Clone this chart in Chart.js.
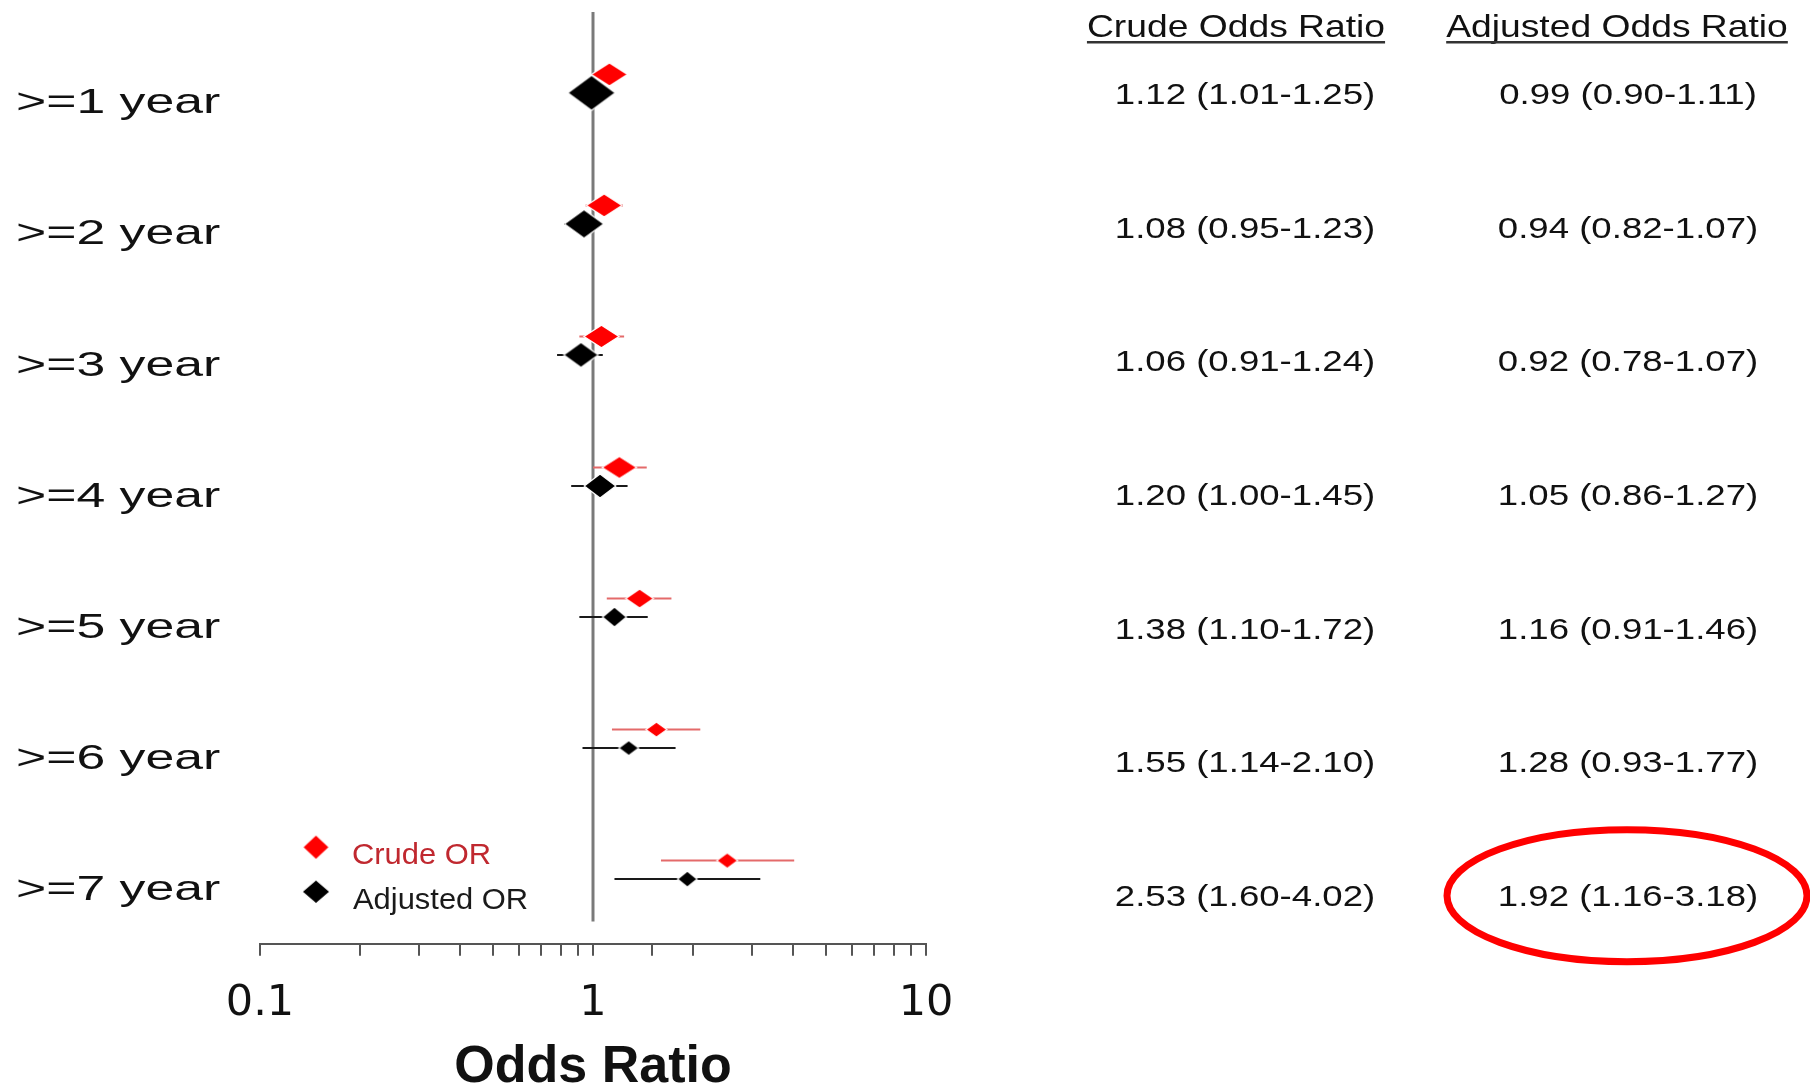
<!DOCTYPE html>
<html lang="en">
<head>
<meta charset="UTF-8">
<title>Crude and Adjusted Odds Ratio</title>
<script src="https://cdn.jsdelivr.net/npm/chart.js"></script>
<style>
  html, body { margin: 0; padding: 0; background: #fff; }
  #forest { display: block; }
</style>
</head>
<body>
<canvas id="forest" width="1810" height="1084"></canvas>
<script>
const rowLabels = ['>=1 year', '>=2 year', '>=3 year', '>=4 year', '>=5 year', '>=6 year', '>=7 year'];
const crudeOR = [1.12, 1.08, 1.06, 1.20, 1.38, 1.55, 2.53];
const crudeLo = [1.01, 0.95, 0.91, 1.00, 1.10, 1.14, 1.60];
const crudeHi = [1.25, 1.23, 1.24, 1.45, 1.72, 2.10, 4.02];
const adjOR = [0.99, 0.94, 0.92, 1.05, 1.16, 1.28, 1.92];
const adjLo = [0.90, 0.82, 0.78, 0.86, 0.91, 0.93, 1.16];
const adjHi = [1.11, 1.07, 1.07, 1.27, 1.46, 1.77, 3.18];
const xTickLabels = ['0.1', '1', '10'];
const headers = ['Crude Odds Ratio', 'Adjusted Odds Ratio'];
const legendLabels = ['Crude OR', 'Adjusted OR'];
const highlightRow = 6; // circled adjusted value

// marker half-width / half-height per row (weight of the estimate)
const crudeSize = [[18, 11.5], [17.8, 11.5], [17.5, 11.2], [17.3, 11], [13.8, 9.5], [10.5, 7.5], [10.5, 7.7]];
const adjSize = [[23.7, 17.5], [19.7, 14.3], [17.3, 12.4], [15.8, 12], [12, 10], [10, 7.4], [9.8, 8]];

const CRUDE_OFF = -0.204;   // crude row sits a little above the label
const ADJ_OFF = -0.063;
const RED = '#ff0000';
const ARIAL = "'Liberation Sans', Arial, sans-serif";

// wide diamond, the original export is stretched sideways
function diamond(color, hw, hh) {
    const c = document.createElement('canvas');
    c.width = Math.ceil(hw * 2 + 4);
    c.height = Math.ceil(hh * 2 + 4);
    const g = c.getContext('2d');
    const cx = c.width / 2, cy = c.height / 2;
    g.beginPath();
    g.moveTo(cx - hw, cy);
    g.lineTo(cx, cy - hh);
    g.lineTo(cx + hw, cy);
    g.lineTo(cx, cy + hh);
    g.closePath();
    g.fillStyle = color;
    g.fill();
    g.lineWidth = 1.2;
    g.strokeStyle = '#fff';
    g.stroke();
    return c;
}
const crudeMarks = crudeSize.map(s => diamond(RED, s[0], s[1]));
const adjMarks = adjSize.map(s => diamond('#000', s[0], s[1]));

function fmt(or, lo, hi) {
    return `${or.toFixed(2)} (${lo.toFixed(2)}-${hi.toFixed(2)})`;
}

// text drawn with horizontal stretch, yMid = middle of the capitals
function stretchText(ctx, text, x, yMid, size, sx, align, color, weight) {
    ctx.save();
    ctx.font = `${weight || 'normal'} ${size}px ${ARIAL}`;
    ctx.fillStyle = color;
    ctx.textAlign = 'left';
    ctx.textBaseline = 'alphabetic';
    const w = ctx.measureText(text).width * sx;
    const x0 = align === 'center' ? x - w / 2 : (align === 'right' ? x - w : x);
    ctx.translate(x0, yMid + size * 0.716 / 2);
    ctx.scale(sx, 1);
    ctx.fillText(text, 0, 0);
    ctx.restore();
    return { x0: x0, w: w };
}

const datasets = [];
// reference line at OR = 1
datasets.push({
    data: [{ x: 1, y: -0.68 }, { x: 1, y: 6.26 }],
    showLine: true, borderColor: '#7a7a7a', borderWidth: 3, pointRadius: 0, order: 40
});
rowLabels.forEach((_, i) => {
    datasets.push({
        data: [{ x: crudeLo[i], y: i + CRUDE_OFF }, { x: crudeHi[i], y: i + CRUDE_OFF }],
        showLine: true, borderColor: '#e46a6a', borderWidth: 2, pointRadius: 0, order: 30
    });
    datasets.push({
        data: [{ x: adjLo[i], y: i + ADJ_OFF }, { x: adjHi[i], y: i + ADJ_OFF }],
        showLine: true, borderColor: '#1a1a1a', borderWidth: 2, pointRadius: 0, order: 30
    });
});
datasets.push({
    label: legendLabels[1],
    data: adjOR.map((v, i) => ({ x: v, y: i + ADJ_OFF })),
    pointStyle: c => adjMarks[c.dataIndex] || adjMarks[0],
    pointRadius: 10, order: 2
});
datasets.push({
    label: legendLabels[0],
    data: crudeOR.map((v, i) => ({ x: v, y: i + CRUDE_OFF })),
    pointStyle: c => crudeMarks[c.dataIndex] || crudeMarks[0],
    pointRadius: 10, order: 1
});

const textPlugin = {
    id: 'forestText',
    afterDraw(chart) {
        const ctx = chart.ctx;
        const ys = chart.scales.y;
        const area = chart.chartArea;

        // row labels
        rowLabels.forEach((t, i) => {
            stretchText(ctx, t, 16, ys.getPixelForValue(i), 34.5, 1.5, 'left', '#111');
        });

        // table headers with underline
        const colX = [1245, 1628];
        const headX = [1236, 1617];
        headers.forEach((h, k) => {
            const r = stretchText(ctx, h, headX[k], 25.2, 32, 1.164, 'center', '#111');
            ctx.save();
            ctx.strokeStyle = '#333';
            ctx.lineWidth = 2.5;
            ctx.beginPath();
            ctx.moveTo(r.x0, 42.3);
            ctx.lineTo(r.x0 + r.w, 42.3);
            ctx.stroke();
            ctx.restore();
        });

        // table values
        rowLabels.forEach((_, i) => {
            const y = ys.getPixelForValue(-0.06 + 1.02 * i);
            stretchText(ctx, fmt(crudeOR[i], crudeLo[i], crudeHi[i]), colX[0], y, 30, 1.22, 'center', '#111');
            stretchText(ctx, fmt(adjOR[i], adjLo[i], adjHi[i]), colX[1], y, 30, 1.22, 'center', '#111');
        });

        // red ring round the highlighted value
        const hy = ys.getPixelForValue(-0.06 + 1.02 * highlightRow) + 0.5;
        ctx.save();
        ctx.strokeStyle = RED;
        ctx.lineWidth = 7;
        ctx.beginPath();
        ctx.ellipse(colX[1] - 1, hy, 180, 66, 0, 0, Math.PI * 2);
        ctx.stroke();
        ctx.restore();

        // legend, bottom left of the plot
        const lx = area.left + 56;
        const lr = diamond(RED, 13.3, 12.5);
        const lb = diamond('#000', 14, 12);
        ctx.drawImage(lr, lx - lr.width / 2, area.bottom - 96.5 - lr.height / 2);
        ctx.drawImage(lb, lx - lb.width / 2, area.bottom - 52 - lb.height / 2);
        stretchText(ctx, legendLabels[0], area.left + 92, area.bottom - 90.5, 30, 1.03, 'left', '#c0282f');
        stretchText(ctx, legendLabels[1], area.left + 93, area.bottom - 45.4, 30, 1.03, 'left', '#1a1a1a');
    }
};

function isDecade(v) {
    const l = Math.log10(v);
    return Math.abs(l - Math.round(l)) < 1e-9;
}

new Chart(document.getElementById('forest'), {
    type: 'scatter',
    data: { datasets: datasets },
    options: {
        responsive: false,
        devicePixelRatio: 1,
        animation: false,
        layout: { padding: { left: 260, right: 884, top: 12, bottom: 0 } },
        plugins: {
            legend: { display: false },
            tooltip: { enabled: false }
        },
        scales: {
            x: {
                type: 'logarithmic',
                min: 0.1,
                max: 10,
                grid: { drawOnChartArea: false, drawTicks: true, tickLength: 12, color: '#555', lineWidth: 2 },
                border: { display: true, color: '#555', width: 2 },
                ticks: {
                    autoSkip: false,
                    maxRotation: 0,
                    padding: 24,
                    color: '#111',
                    font: { family: 'DejaVu Sans', size: 43, lineHeight: 1.1 },
                    callback: function (v) {
                        if (!isDecade(v)) return '';
                        const idx = Math.round(Math.log10(v)) + 1;
                        return xTickLabels[idx];
                    }
                },
                title: {
                    display: true,
                    text: 'Odds Ratio',
                    color: '#111',
                    padding: { top: 4, bottom: 3 },
                    font: { family: ARIAL, size: 52, weight: 'bold', lineHeight: 0.5 }
                }
            },
            y: {
                type: 'linear',
                display: false,
                reverse: true,
                min: -0.68,
                max: 6.43
            }
        }
    },
    plugins: [textPlugin]
});
</script>
</body>
</html>
